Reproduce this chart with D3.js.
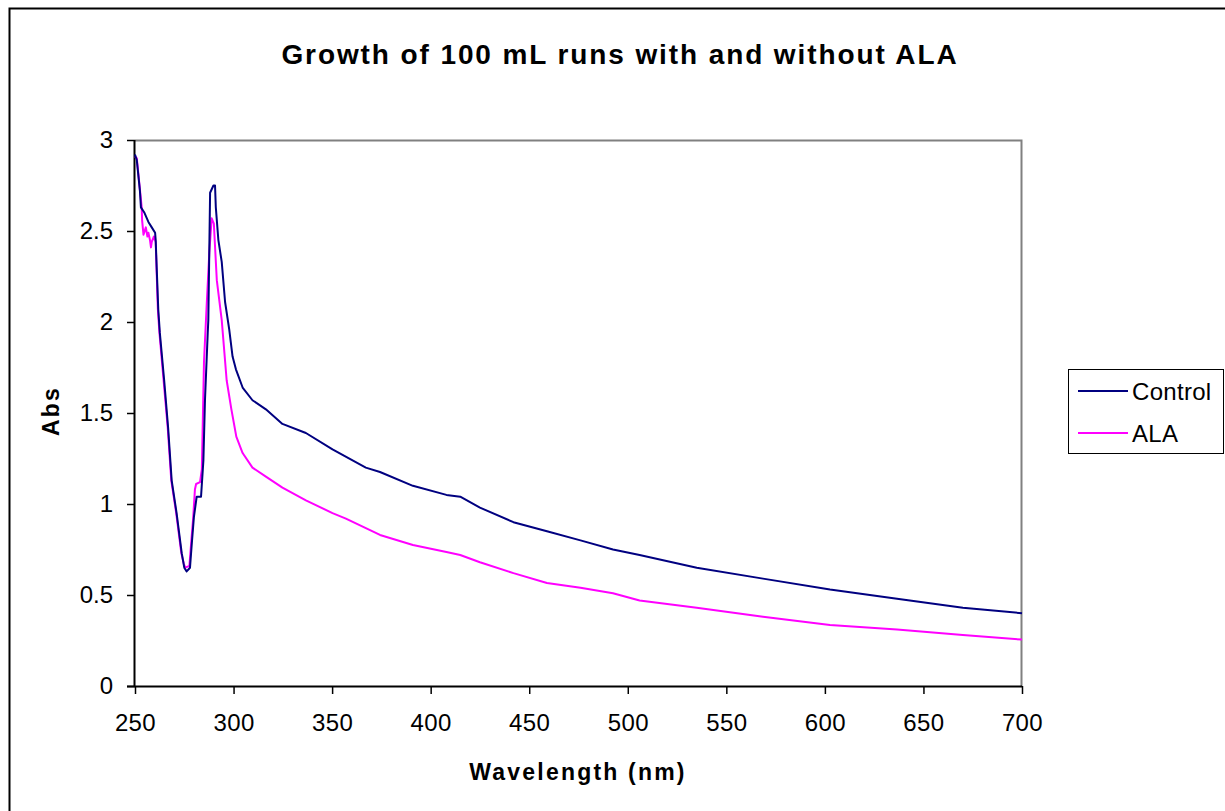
<!DOCTYPE html>
<html>
<head>
<meta charset="utf-8">
<script src="https://cdn.jsdelivr.net/npm/d3@7/dist/d3.min.js"></script>
<style>
  html, body { margin: 0; padding: 0; background: #fff; }
  svg { display: block; font-family: "Liberation Sans", Arial, sans-serif; }
</style>
</head>
<body>
<svg id="chart" width="1225" height="811"></svg>
<script>
// ---- Data ----
const title = "Growth of 100 mL runs with and without ALA";
const xLabel = "Wavelength (nm)";
const yLabel = "Abs";
const xTicks = [250, 300, 350, 400, 450, 500, 550, 600, 650, 700];
const yTicks = [0, 0.5, 1, 1.5, 2, 2.5, 3];
const yTickLabels = ["0", "0.5", "1", "1.5", "2", "2.5", "3"];
const seriesNames = ["Control", "ALA"];

const controlWl = [250.0, 250.9, 252.5, 253.0, 254.8, 256.8, 258.5, 260.2, 260.5, 261.0, 261.8, 262.6, 264.8, 266.8, 268.6, 271.1, 273.7, 275.0, 276.2, 277.9, 278.8, 279.9, 281.3, 283.5, 284.7, 285.5, 286.9, 287.2, 288.1, 289.8, 290.6, 291.0, 292.3, 294.0, 295.7, 297.8, 299.5, 301.2, 304.6, 309.6, 316.4, 324.8, 336.7, 350.2, 367.1, 374.3, 391, 408, 415, 425, 442, 459, 476, 492.5, 506, 535, 568.6, 602.6, 636.6, 670, 700];
const controlAbs = [2.92, 2.89, 2.72, 2.63, 2.60, 2.55, 2.52, 2.49, 2.45, 2.30, 2.07, 1.94, 1.68, 1.42, 1.13, 0.95, 0.73, 0.65, 0.63, 0.65, 0.78, 0.93, 1.04, 1.04, 1.24, 1.57, 1.94, 2.01, 2.71, 2.75, 2.75, 2.63, 2.45, 2.33, 2.11, 1.96, 1.81, 1.74, 1.64, 1.57, 1.52, 1.44, 1.39, 1.30, 1.20, 1.176, 1.10, 1.05, 1.04, 0.98, 0.90, 0.85, 0.80, 0.75, 0.72, 0.65, 0.59, 0.53, 0.48, 0.43, 0.40];

const alaWl = [250.0, 250.9, 253.4, 253.6, 254.3, 255.5, 256.3, 256.8, 257.6, 258.1, 258.5, 259.6, 260.5, 261.0, 261.6, 262.4, 264.5, 266.6, 268.4, 270.9, 273.5, 274.8, 275.5, 277.6, 278.6, 279.5, 280.4, 281.0, 283.0, 283.9, 285.0, 286.4, 287.7, 288.9, 290.0, 291.5, 294.0, 296.5, 298.9, 301.4, 304.6, 309.6, 316.4, 324.8, 336.7, 350.2, 357, 374.3, 391, 408, 415, 425, 442, 459, 476, 492.5, 506, 535, 568.6, 602.6, 636.6, 670, 700];
const alaAbs = [2.91, 2.90, 2.63, 2.56, 2.48, 2.52, 2.47, 2.49, 2.45, 2.41, 2.44, 2.47, 2.44, 2.27, 2.07, 1.94, 1.68, 1.42, 1.13, 0.95, 0.73, 0.67, 0.65, 0.66, 0.80, 0.92, 1.08, 1.11, 1.12, 1.19, 1.78, 2.10, 2.38, 2.57, 2.54, 2.23, 2.01, 1.68, 1.52, 1.37, 1.28, 1.20, 1.15, 1.09, 1.02, 0.95, 0.92, 0.83, 0.775, 0.736, 0.72, 0.68, 0.62, 0.566, 0.54, 0.51, 0.47, 0.43, 0.38, 0.335, 0.31, 0.28, 0.255];

// ---- Layout ----
const svg = d3.select("#chart");
const plot = { left: 135, top: 140, right: 1022, bottom: 686 };
const colors = { Control: "#000080", ALA: "#FF00FF" };

const x = d3.scaleLinear().domain([250, 700]).range([plot.left, plot.right]);
const y = d3.scaleLinear().domain([0, 3]).range([plot.bottom, plot.top]);

// outer chart border
svg.append("rect")
  .attr("x", 9.5).attr("y", 8.5).attr("width", 1240).attr("height", 840)
  .attr("fill", "#fff").attr("stroke", "#000").attr("stroke-width", 2);

// plot area border (top/right gray)
svg.append("path")
  .attr("d", `M${plot.left},${plot.top + 0.5}H${plot.right - 0.5}V${plot.bottom}`)
  .attr("fill", "none").attr("stroke", "#808080").attr("stroke-width", 2);

// title
svg.append("text")
  .attr("x", 620).attr("y", 64)
  .attr("text-anchor", "middle")
  .attr("font-weight", "bold").attr("font-size", 28)
  .attr("letter-spacing", 1.9)
  .text(title);

// axes
const xAxis = d3.axisBottom(x).tickValues(xTicks).tickSize(8).tickPadding(20).tickFormat(d3.format("d"));
const gx = svg.append("g").attr("transform", `translate(0,${plot.bottom})`).call(xAxis);
gx.select(".domain").attr("stroke", "#000").attr("stroke-width", 2).attr("d", `M${plot.left - 8},0.5H${plot.right}`);
gx.selectAll(".tick line").attr("stroke", "#000").attr("stroke-width", 1.5);
gx.selectAll(".tick text").attr("font-size", 24).attr("fill", "#000")
  .attr("font-family", "Liberation Sans, Arial, sans-serif").attr("dy", "0.72em")
  .attr("letter-spacing", 0.4);

const yAxis = d3.axisLeft(y).tickValues(yTicks).tickSize(8).tickPadding(14)
  .tickFormat((d, i) => yTickLabels[i]);
const gy = svg.append("g").attr("transform", `translate(${plot.left},0)`).call(yAxis);
gy.select(".domain").attr("stroke", "#000").attr("stroke-width", 2).attr("d", `M-0.5,${plot.top}V${plot.bottom}`);
gy.selectAll(".tick line").attr("stroke", "#000").attr("stroke-width", 1.5);
gy.selectAll(".tick text").attr("font-size", 24).attr("fill", "#000")
  .attr("font-family", "Liberation Sans, Arial, sans-serif");

// axis titles
svg.append("text")
  .attr("x", 578).attr("y", 780)
  .attr("text-anchor", "middle")
  .attr("font-weight", "bold").attr("font-size", 23)
  .attr("letter-spacing", 2.2)
  .text(xLabel);
svg.append("text")
  .attr("transform", "translate(59,411) rotate(-90)")
  .attr("text-anchor", "middle")
  .attr("font-weight", "bold").attr("font-size", 23)
  .attr("letter-spacing", 2.2)
  .text(yLabel);

// lines
const line = d3.line().x(d => x(d[0])).y(d => y(d[1]));
const series = [
  { name: "Control", data: d3.zip(controlWl, controlAbs) },
  { name: "ALA", data: d3.zip(alaWl, alaAbs) }
];
svg.append("g").selectAll("path")
  .data(series.slice().reverse())
  .join("path")
  .attr("d", d => line(d.data))
  .attr("fill", "none")
  .attr("stroke", d => colors[d.name])
  .attr("stroke-width", 2)
  .attr("stroke-linejoin", "round");

// legend
const lg = svg.append("g");
lg.append("rect")
  .attr("x", 1068.5).attr("y", 369.5).attr("width", 155).attr("height", 84)
  .attr("fill", "#fff").attr("stroke", "#000").attr("stroke-width", 1);
seriesNames.forEach((name, i) => {
  const cy = 391 + i * 42;
  lg.append("line")
    .attr("x1", 1078).attr("x2", 1128).attr("y1", cy).attr("y2", cy)
    .attr("stroke", colors[name]).attr("stroke-width", 2);
  lg.append("text")
    .attr("x", 1132).attr("y", cy).attr("dy", "0.36em")
    .attr("font-size", 24).attr("letter-spacing", 0.3)
    .text(name);
});
</script>
</body>
</html>
